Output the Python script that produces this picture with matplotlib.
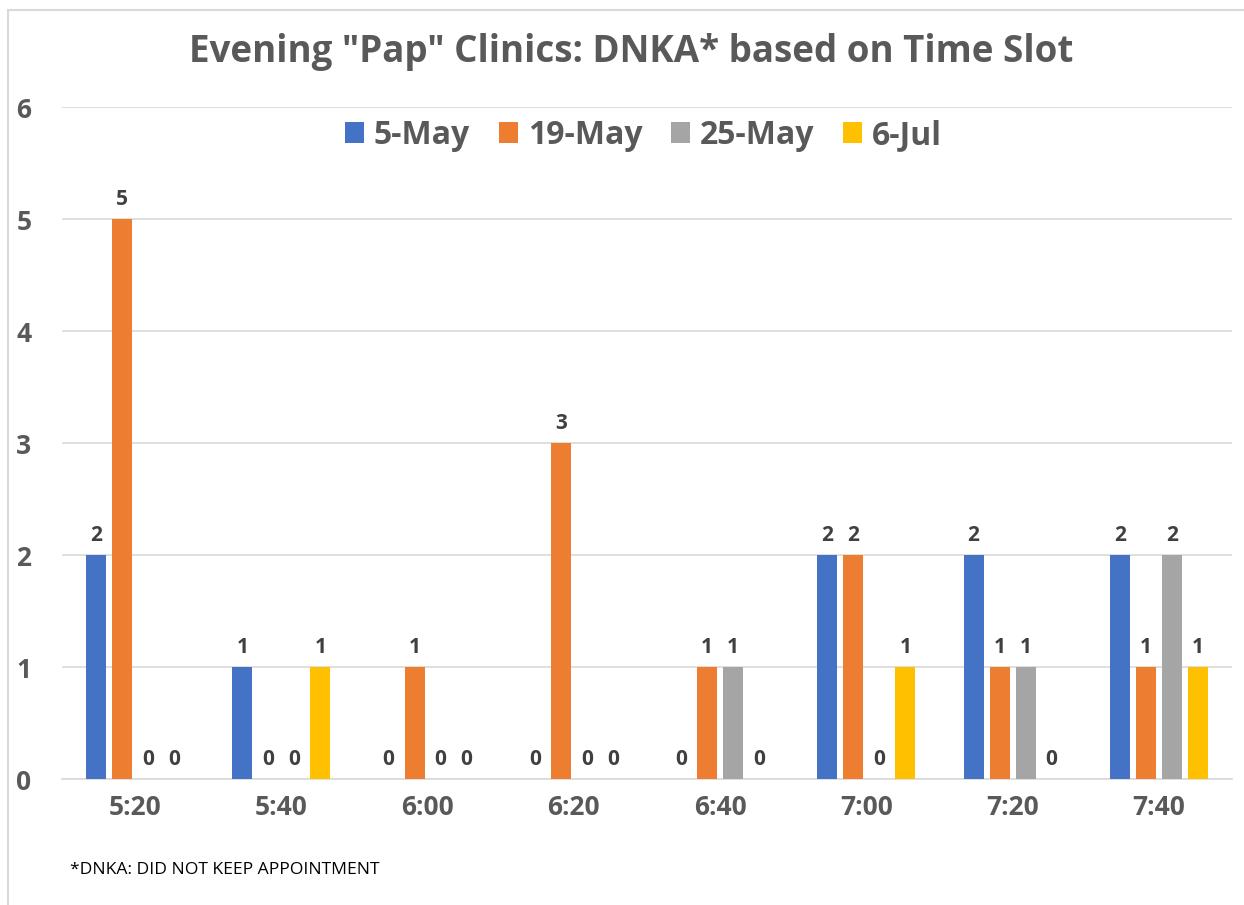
import matplotlib
matplotlib.use("Agg")
import matplotlib.pyplot as plt
import numpy as np
from matplotlib.patches import Rectangle

categories = ["5:20", "5:40", "6:00", "6:20", "6:40", "7:00", "7:20", "7:40"]
series_names = ["5-May", "19-May", "25-May", "6-Jul"]
may5 = [2, 1, 0, 0, 0, 2, 2, 2]
may19 = [5, 0, 1, 3, 1, 2, 1, 1]
may25 = [0, 0, 0, 0, 1, 0, 1, 2]
jul6 = [0, 1, 0, 0, 0, 1, 0, 1]
series_values = [may5, may19, may25, jul6]
colors = ["#4472C4", "#ED7D31", "#A5A5A5", "#FFC000"]
yticks = [0, 1, 2, 3, 4, 5, 6]

plt.rcParams['font.family'] = ['Open Sans', 'DejaVu Sans']
W, H = 1244, 905
fig = plt.figure(figsize=(W / 100, H / 100), dpi=100)
fig.patch.set_facecolor("white")

# chart border
fig.add_artist(Rectangle((8 / W, -0.01), 1.0, 1 - 10 / H + 0.01, transform=fig.transFigure,
                         fill=False, edgecolor="#D9D9D9", linewidth=1.5))

ax = fig.add_axes([62 / W, 1 - 779 / H, (1232 - 62) / W, (779 - 107) / H])
x = np.arange(len(categories))
bw = 0.137
step = 0.178
offsets = [(i - 1.5) * step for i in range(4)]
text_color = "#404040"
for vals, name, c, off in zip(series_values, series_names, colors, offsets):
    ax.bar(x + off, vals, width=bw, color=c, label=name, zorder=3)
    for xi, v in zip(x + off, vals):
        ax.text(xi, v + 0.08, str(v), ha="center", va="bottom", fontsize=15,
                fontweight="bold", color=text_color)

ax.set_xlim(-0.5, len(categories) - 0.5)
ax.set_ylim(0, 6)
ax.set_yticks(yticks)
ax.set_yticklabels([str(t) for t in yticks], fontsize=19, fontweight="bold", color="#595959")
ax.set_xticks(x)
ax.set_xticklabels(categories, fontsize=19, fontweight="bold", color="#595959")
ax.tick_params(axis="both", length=0)
ax.tick_params(axis="x", pad=11)
ax.tick_params(axis="y", pad=22)
ax.grid(axis="y", color="#D9D9D9", linewidth=1.2, zorder=0)
for s in ["top", "right", "left"]:
    ax.spines[s].set_visible(False)
ax.spines["bottom"].set_color("#D9D9D9")
ax.spines["bottom"].set_linewidth(1.2)

leg = ax.legend(loc="center", bbox_to_anchor=(0.497, 0.958), ncol=4, frameon=False,
                prop={"size": 23, "weight": "bold"}, handlelength=0.6, handleheight=0.6,
                handletextpad=0.3, columnspacing=0.9)
for t in leg.get_texts():
    t.set_color("#595959")

fig.text(0.507, 1 - 52 / H, 'Evening "Pap" Clinics: DNKA* based on Time Slot', ha="center",
         va="center", fontsize=26.5, fontweight="bold", color="#595959")
fig.text(70 / W, 1 - 870 / H, "*DNKA: DID NOT KEEP APPOINTMENT", ha="left", va="center",
         fontsize=12.6, color="black")

fig.savefig("out.png", dpi=100, facecolor="white")
